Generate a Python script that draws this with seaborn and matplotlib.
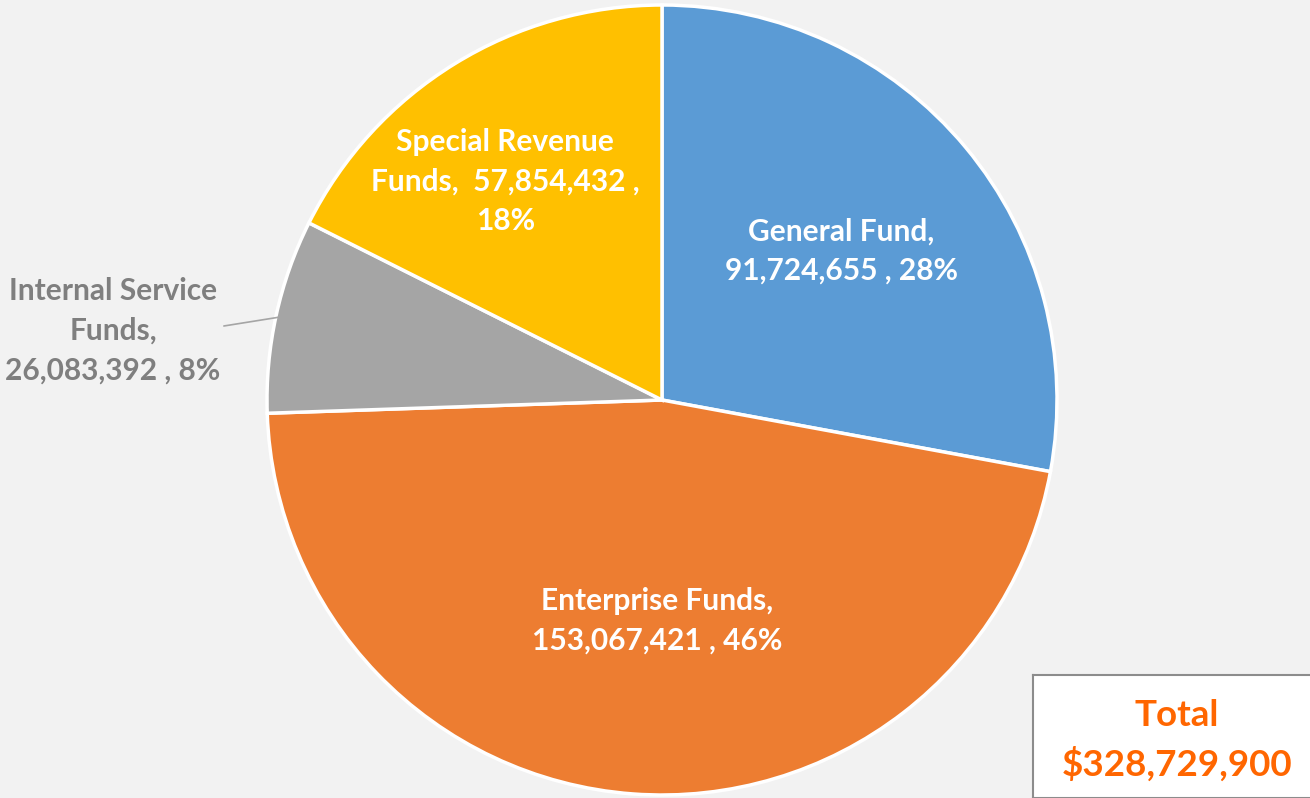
import numpy as np
import matplotlib
matplotlib.use("Agg")
import matplotlib.pyplot as plt
import seaborn as sns

categories = ["General Fund", "Enterprise Funds", "Internal Service Funds", "Special Revenue Funds"]
values = [91724655, 153067421, 26083392, 57854432]
percents = ["28%", "46%", "8%", "18%"]
colors = ["#5B9BD5", "#ED7D31", "#A5A5A5", "#FFC000"]
total_label = "Total\n$328,729,900"

sns.set_style("white")
plt.rcParams['font.family'] = ['Lato', 'DejaVu Sans']

W, H = 1310, 798
fig = plt.figure(figsize=(W / 100, H / 100), dpi=100)
fig.patch.set_facecolor("#F2F2F2")
cx, cy, R = 662, 398, 395
ax = fig.add_axes([(cx - R) / W, (cy - R) / H, 2 * R / W, 2 * R / H])
ax.set_facecolor("#F2F2F2")

wedges, _ = ax.pie(values, colors=colors, startangle=90, counterclock=False,
                   radius=1.0, wedgeprops=dict(edgecolor="white", linewidth=2.5))
ax.set_xlim(-1, 1)
ax.set_ylim(-1, 1)
ax.set_aspect("equal")
ax.axis("off")

def fmt(v):
    return f"{v:,}"

labels = [
    f"General Fund,\n{fmt(values[0])} , {percents[0]}",
    f"Enterprise Funds,\n{fmt(values[1])} , {percents[1]}",
    f"Internal Service\nFunds,\n{fmt(values[2])} , {percents[2]}",
    f"Special Revenue\nFunds,  {fmt(values[3])} ,\n{percents[3]}",
]
label_r = [0.59, 0.56, None, 0.68]
angle_adj = [0, 3, 0, 4]
fs = 21.5
ls = 1.5
for i, w in enumerate(wedges):
    mid = np.deg2rad((w.theta1 + w.theta2) / 2 + angle_adj[i])
    if label_r[i] is not None:
        x, y = label_r[i] * np.cos(mid), label_r[i] * np.sin(mid)
        ax.text(x, y, labels[i], ha="center", va="center", color="white",
                fontsize=fs, fontweight="bold", linespacing=ls)
    else:
        ex, ey = 0.985 * np.cos(mid), 0.985 * np.sin(mid)
        ax.annotate(labels[i], xy=(ex, ey), xytext=(-1.39, 0.175),
                    ha="center", va="center", color="#7F7F7F", fontsize=fs,
                    fontweight="bold", linespacing=ls,
                    arrowprops=dict(arrowstyle="-", color="#A5A5A5", lw=1.2,
                                    shrinkA=0, shrinkB=0,
                                    relpos=(0.78, 0.47)),
                    annotation_clip=False)

# Total box
bx0 = 1033
box_ax = fig.add_axes([bx0 / W, 0, (W - bx0 + 5) / W, 123 / H])
box_ax.set_xlim(0, 1)
box_ax.set_ylim(0, 1)
box_ax.set_facecolor("white")
for s in box_ax.spines.values():
    s.set_color("#8C8C8C")
    s.set_linewidth(1.5)
box_ax.set_xticks([])
box_ax.set_yticks([])
box_ax.text(0.51, 0.47, total_label, ha="center", va="center", color="#FF6600",
            fontsize=26.5, fontweight="bold", linespacing=1.5)

fig.savefig("out.png", dpi=100, facecolor=fig.get_facecolor())
